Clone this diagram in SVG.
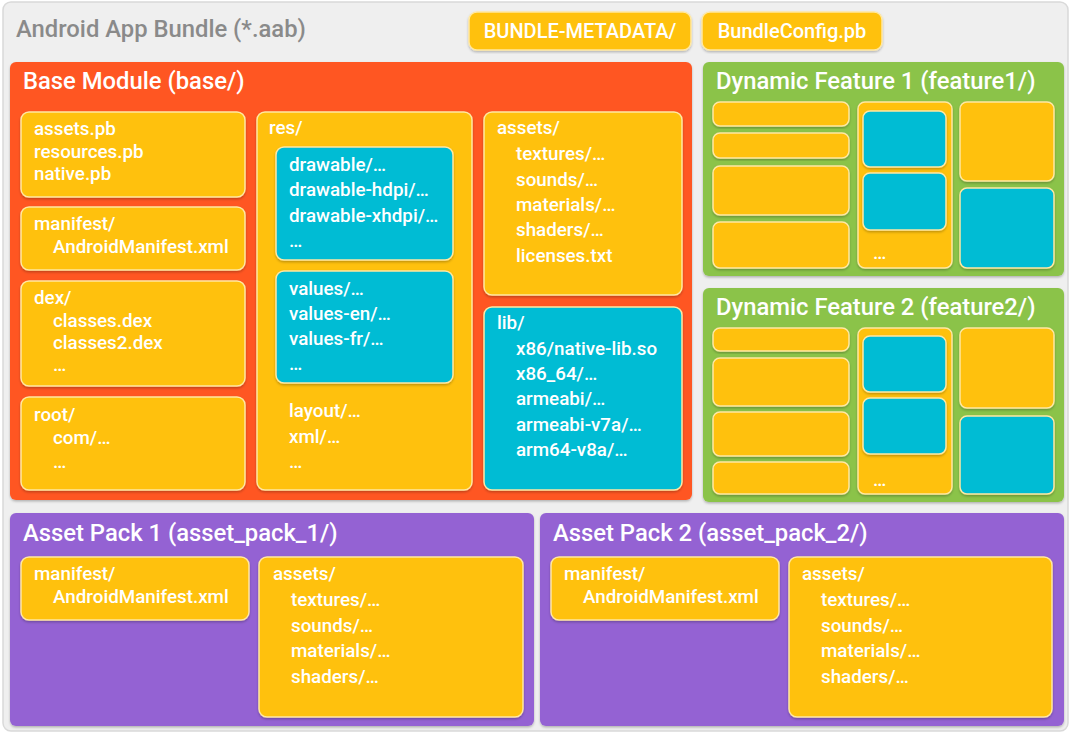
<svg xmlns="http://www.w3.org/2000/svg" width="1071" height="736" viewBox="0 0 1071 736">
<defs>
<filter id="sh" x="-5%" y="-5%" width="110%" height="115%">
<feDropShadow dx="0" dy="1.5" stdDeviation="1.2" flood-color="#000" flood-opacity="0.25"/>
</filter>
<style>
text{font-family:Roboto,"Liberation Sans",Arial,sans-serif;}
.title{font-size:23.8px;font-weight:500;fill:#ffffff;}
.main{font-size:23.8px;font-weight:500;fill:#8a8a8a;}
.t{font-size:18.8px;font-weight:500;fill:#ffffff;}
.tag{font-size:20px;font-weight:500;fill:#ffffff;}
.y{fill:#FFC107;stroke:#FFE8A3;stroke-width:1.5;filter:url(#sh);}
.c{fill:#00BCD4;stroke:#FFE8A3;stroke-width:1.5;filter:url(#sh);}
.base{fill:#FF5722;filter:url(#sh);}
.green{fill:#8BC34A;filter:url(#sh);}
.purple{fill:#9462D3;filter:url(#sh);}
</style>
</defs>
<rect width="1071" height="736" fill="#ffffff"/>
<g id="bundle">
<rect x="3" y="2" width="1065" height="729" rx="8" fill="#efefef" stroke="#d9d9d9" stroke-width="1.5"/>
<text class="main" x="16" y="37">Android App Bundle (*.aab)</text>
</g>
<g id="bundle-metadata">
<rect class="y" x="469" y="12" width="222" height="38" rx="8"/>
<text class="tag" x="580" y="38" text-anchor="middle">BUNDLE-METADATA/</text>
</g>
<g id="bundleconfig">
<rect class="y" x="702" y="12" width="180" height="38" rx="8"/>
<text class="tag" x="792" y="38" text-anchor="middle">BundleConfig.pb</text>
</g>

<g id="base-module">
<rect class="base" x="10" y="62" width="682" height="438" rx="6"/>
<text class="title" x="23" y="89">Base Module (base/)</text>
</g>
<g id="base-pb">
<rect class="y" x="21" y="112" width="224" height="85" rx="8"/>
<text class="t" x="34" y="135">assets.pb</text>
<text class="t" x="34" y="158">resources.pb</text>
<text class="t" x="34" y="180">native.pb</text>
</g>
<g id="base-manifest">
<rect class="y" x="21" y="207" width="224" height="63" rx="8"/>
<text class="t" x="34" y="230">manifest/</text>
<text class="t" x="53" y="253">AndroidManifest.xml</text>
</g>
<g id="base-dex">
<rect class="y" x="21" y="281" width="224" height="105" rx="8"/>
<text class="t" x="34" y="304">dex/</text>
<text class="t" x="53" y="327">classes.dex</text>
<text class="t" x="53" y="349">classes2.dex</text>
<text class="t" x="53" y="371">…</text>
</g>
<g id="base-root">
<rect class="y" x="21" y="397" width="224" height="93" rx="8"/>
<text class="t" x="34" y="421">root/</text>
<text class="t" x="53" y="444">com/…</text>
<text class="t" x="53" y="468">…</text>
</g>
<g id="base-res">
<rect class="y" x="257" y="112" width="215" height="378" rx="8"/>
<text class="t" x="269" y="134">res/</text>
<text class="t" x="289" y="417">layout/…</text>
<text class="t" x="289" y="443">xml/…</text>
<text class="t" x="289" y="468">…</text>
</g>
<g id="res-drawable">
<rect class="c" x="276" y="147" width="177" height="113" rx="8"/>
<text class="t" x="289" y="171">drawable/…</text>
<text class="t" x="289" y="196">drawable-hdpi/…</text>
<text class="t" x="289" y="222">drawable-xhdpi/…</text>
<text class="t" x="289" y="247">…</text>
</g>
<g id="res-values">
<rect class="c" x="276" y="271" width="177" height="112" rx="8"/>
<text class="t" x="289" y="295">values/…</text>
<text class="t" x="289" y="320">values-en/…</text>
<text class="t" x="289" y="345">values-fr/…</text>
<text class="t" x="289" y="370">…</text>
</g>
<g id="base-assets">
<rect class="y" x="484" y="112" width="198" height="183" rx="8"/>
<text class="t" x="497" y="134">assets/</text>
<text class="t" x="516" y="160">textures/…</text>
<text class="t" x="516" y="186">sounds/…</text>
<text class="t" x="516" y="211">materials/…</text>
<text class="t" x="516" y="236">shaders/…</text>
<text class="t" x="516" y="262">licenses.txt</text>
</g>
<g id="base-lib">
<rect class="c" x="484" y="307" width="198" height="183" rx="8"/>
<text class="t" x="497" y="329">lib/</text>
<text class="t" x="516" y="355">x86/native-lib.so</text>
<text class="t" x="516" y="380">x86_64/…</text>
<text class="t" x="516" y="405">armeabi/…</text>
<text class="t" x="516" y="431">armeabi-v7a/…</text>
<text class="t" x="516" y="456">arm64-v8a/…</text>
</g>

<g id="feature1">
<rect class="green" x="703" y="62" width="361" height="214" rx="6"/>
<text class="title" x="716" y="89">Dynamic Feature 1 (feature1/)</text>
<rect class="y" x="713" y="102" width="136" height="24" rx="7"/>
<rect class="y" x="713" y="133" width="136" height="25" rx="7"/>
<rect class="y" x="713" y="166" width="136" height="49" rx="7"/>
<rect class="y" x="713" y="222" width="136" height="46" rx="7"/>
<rect class="y" x="858" y="102" width="94" height="166" rx="7"/>
<rect class="c" x="863" y="111" width="83" height="56" rx="7"/>
<rect class="c" x="863" y="173" width="83" height="57" rx="7"/>
<text class="t" x="873" y="259" font-size="13">…</text>
<rect class="y" x="960" y="102" width="94" height="79" rx="7"/>
<rect class="c" x="960" y="188" width="94" height="80" rx="7"/>
</g>

<g id="feature2">
<rect class="green" x="703" y="288" width="361" height="214" rx="6"/>
<text class="title" x="716" y="315">Dynamic Feature 2 (feature2/)</text>
<rect class="y" x="713" y="328" width="136" height="23" rx="7"/>
<rect class="y" x="713" y="358" width="136" height="48" rx="7"/>
<rect class="y" x="713" y="412" width="136" height="44" rx="7"/>
<rect class="y" x="713" y="462" width="136" height="32" rx="7"/>
<rect class="y" x="858" y="328" width="94" height="166" rx="7"/>
<rect class="c" x="863" y="336" width="83" height="56" rx="7"/>
<rect class="c" x="863" y="398" width="83" height="56" rx="7"/>
<text class="t" x="873" y="486" font-size="13">…</text>
<rect class="y" x="960" y="328" width="94" height="80" rx="7"/>
<rect class="c" x="960" y="416" width="94" height="78" rx="7"/>
</g>

<g id="asset-pack-1">
<rect class="purple" x="10" y="513" width="524" height="213" rx="6"/>
<text class="title" x="23" y="541">Asset Pack 1 (asset_pack_1/)</text>
</g>
<g id="ap1-manifest">
<rect class="y" x="21" y="557" width="228" height="63" rx="8"/>
<text class="t" x="34" y="580">manifest/</text>
<text class="t" x="53" y="603">AndroidManifest.xml</text>
</g>
<g id="ap1-assets">
<rect class="y" x="259" y="557" width="264" height="160" rx="8"/>
<text class="t" x="273" y="580">assets/</text>
<text class="t" x="291" y="606">textures/…</text>
<text class="t" x="291" y="632">sounds/…</text>
<text class="t" x="291" y="657">materials/…</text>
<text class="t" x="291" y="683">shaders/…</text>
</g>

<g id="asset-pack-2">
<rect class="purple" x="540" y="513" width="524" height="213" rx="6"/>
<text class="title" x="553" y="541">Asset Pack 2 (asset_pack_2/)</text>
</g>
<g id="ap2-manifest">
<rect class="y" x="551" y="557" width="228" height="63" rx="8"/>
<text class="t" x="564" y="580">manifest/</text>
<text class="t" x="583" y="603">AndroidManifest.xml</text>
</g>
<g id="ap2-assets">
<rect class="y" x="789" y="557" width="263" height="160" rx="8"/>
<text class="t" x="802" y="580">assets/</text>
<text class="t" x="821" y="606">textures/…</text>
<text class="t" x="821" y="632">sounds/…</text>
<text class="t" x="821" y="657">materials/…</text>
<text class="t" x="821" y="683">shaders/…</text>
</g>
<g id="connectors"/>
</svg>
